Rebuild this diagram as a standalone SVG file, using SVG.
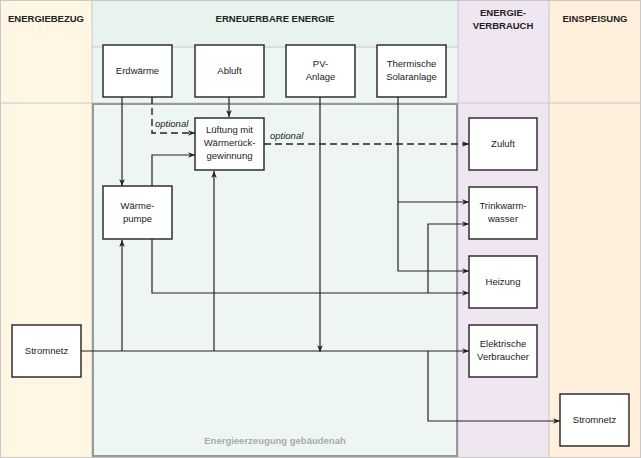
<svg xmlns="http://www.w3.org/2000/svg" width="641" height="458" viewBox="0 0 641 458">
<defs>
<style>
text{font-family:"Liberation Sans",Arial,sans-serif;font-size:9.5px;fill:#222;text-anchor:middle}
.h{font-weight:bold;font-size:9.5px}
.n rect{fill:#fff;stroke:#222;stroke-width:1.4}
.c path{fill:none;stroke:#222;stroke-width:1.2}
.c path.d{stroke-dasharray:7 4;stroke-width:1.4}
.o{font-style:italic;text-anchor:start}
</style>
<marker id="a" viewBox="0 0 10 10" refX="10" refY="5" markerWidth="7" markerHeight="7" orient="auto" markerUnits="userSpaceOnUse"><path d="M0,1 L10,5 L0,9 L3,5z" fill="#222"/></marker>
</defs>
<rect x="0" y="0" width="92" height="458" fill="#fff7e3"/>
<rect x="92" y="0" width="366" height="458" fill="#eef6f2"/>
<rect x="92" y="0" width="366" height="47" fill="#e8f3ee"/>
<rect x="458" y="0" width="91" height="458" fill="#efe6f1"/>
<rect x="549" y="0" width="92" height="458" fill="#fff0dd"/>
<g stroke="#c8c8c8" stroke-width="1" fill="none">
<rect x="0.5" y="0.5" width="640" height="457"/>
<line x1="92" y1="0" x2="92" y2="458"/><line x1="458" y1="0" x2="458" y2="458"/><line x1="549" y1="0" x2="549" y2="458"/>
<line x1="92" y1="47" x2="458" y2="47"/><line x1="0" y1="103" x2="641" y2="103"/>
</g>
<rect x="93" y="104" width="364" height="352" fill="none" stroke="#999" stroke-width="2"/>
<text class="h" x="46" y="22">ENERGIEBEZUG</text>
<text class="h" x="275" y="22">ERNEUERBARE ENERGIE</text>
<text class="h" x="503" y="16">ENERGIE-</text><text class="h" x="503" y="29">VERBRAUCH</text>
<text class="h" x="595" y="22">EINSPEISUNG</text>
<text x="275" y="444" style="fill:#aaa;font-weight:bold">Energieerzeugung gebäudenah</text>
<g class="c">
<path d="M122,97 V186" marker-end="url(#a)"/>
<path class="d" d="M152,97 V133 H195" marker-end="url(#a)"/>
<path d="M229,97 V117" marker-end="url(#a)"/>
<path d="M152,186 V155 H195" marker-end="url(#a)"/>
<path class="d" d="M264,144 H469" marker-end="url(#a)"/>
<path d="M320,97 V352" marker-end="url(#a)"/>
<path d="M398,97 V271 H469" marker-end="url(#a)"/>
<path d="M398,202 H469" marker-end="url(#a)"/>
<path d="M428,293 V224 H469" marker-end="url(#a)"/>
<path d="M152,239 V293 H469" marker-end="url(#a)"/>
<path d="M81,351 H469" marker-end="url(#a)"/>
<path d="M122,351 V240" marker-end="url(#a)"/>
<path d="M214,351 V171" marker-end="url(#a)"/>
<path d="M428,351 V421 H560" marker-end="url(#a)"/>
<text class="o" x="155" y="127">optional</text>
<text class="o" x="270" y="139">optional</text>
</g>
<g class="n">
<g id="erdwaerme"><rect x="103" y="45" width="69" height="52"/><text x="137.5" y="74">Erdwärme</text></g>
<g id="abluft"><rect x="195" y="45" width="69" height="52"/><text x="229.5" y="74">Abluft</text></g>
<g id="pv"><rect x="286" y="45" width="69" height="52"/><text x="320.5" y="67">PV-</text><text x="320.5" y="80">Anlage</text></g>
<g id="solar"><rect x="377" y="45" width="69" height="52"/><text x="411.5" y="67">Thermische</text><text x="411.5" y="80">Solaranlage</text></g>
<g id="lueftung"><rect x="195" y="118" width="69" height="52"/><text x="229.5" y="133">Lüftung mit</text><text x="229.5" y="146">Wärmerück-</text><text x="229.5" y="159">gewinnung</text></g>
<g id="zuluft"><rect x="469" y="118" width="68" height="52"/><text x="503" y="147">Zuluft</text></g>
<g id="wp"><rect x="103" y="186" width="69" height="53"/><text x="137.5" y="209">Wärme-</text><text x="137.5" y="222">pumpe</text></g>
<g id="tww"><rect x="469" y="187" width="68" height="52"/><text x="503" y="209">Trinkwarm-</text><text x="503" y="222">wasser</text></g>
<g id="heizung"><rect x="469" y="256" width="68" height="52"/><text x="503" y="285">Heizung</text></g>
<g id="elektr"><rect x="469" y="325" width="68" height="52"/><text x="503" y="347">Elektrische</text><text x="503" y="360">Verbraucher</text></g>
<g id="strom1"><rect x="12" y="325" width="69" height="52"/><text x="46.5" y="354">Stromnetz</text></g>
<g id="strom2"><rect x="560" y="394" width="69" height="52"/><text x="594.5" y="423">Stromnetz</text></g>
</g>
</svg>
